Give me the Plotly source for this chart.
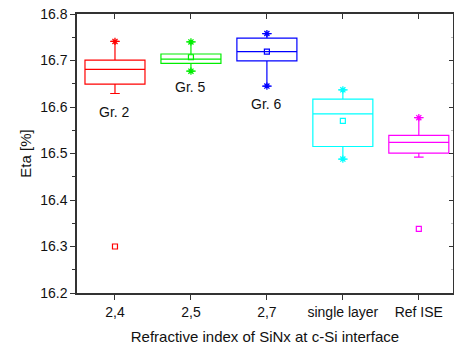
import plotly.graph_objects as go

categories = ["2,4", "2,5", "2,7", "single layer", "Ref ISE"]
colors = ["#ff0000", "#00ee00", "#0000ff", "#00ffff", "#ff00ff"]
q1 = [16.649, 16.694, 16.699, 16.515, 16.501]
median = [16.681, 16.703, 16.719, 16.585, 16.524]
q3 = [16.701, 16.714, 16.748, 16.617, 16.539]
lower = [16.629, 16.677, 16.645, 16.488, 16.492]
upper = [16.741, 16.740, 16.758, 16.637, 16.577]
star_max = [16.741, 16.740, 16.758, 16.637, 16.577]
star_min = [None, 16.677, 16.645, 16.488, None]
mean_pts = [16.300, 16.707, 16.719, 16.570, 16.338]
group_labels = ["Gr. 2", "Gr. 5", "Gr. 6"]
group_label_y = [16.589, 16.644, 16.606]

FONT = "Liberation Sans, Arial, sans-serif"

fig = go.Figure()
for i, c in enumerate(categories):
    fig.add_trace(go.Box(
        x=[c], q1=[q1[i]], median=[median[i]], q3=[q3[i]],
        lowerfence=[lower[i]], upperfence=[upper[i]],
        boxpoints=False, width=0.79, whiskerwidth=0.16,
        line=dict(color=colors[i], width=1.2),
        fillcolor="rgba(255,255,255,0)", showlegend=False,
    ))
    ys = [star_max[i]] + ([star_min[i]] if star_min[i] is not None else [])
    fig.add_trace(go.Scatter(
        x=[c] * len(ys), y=ys, mode="markers", showlegend=False,
        marker=dict(symbol="asterisk-open", size=6, color=colors[i],
                    line=dict(color=colors[i], width=1.3)),
    ))
    fig.add_trace(go.Scatter(
        x=[c], y=[mean_pts[i]], mode="markers", showlegend=False,
        marker=dict(symbol="square-open", size=5, color=colors[i],
                    line=dict(color=colors[i], width=1.2)),
    ))

# dummy trace for mirrored axes
fig.add_trace(go.Scatter(x=[categories[0]], y=[16.5], xaxis="x2", yaxis="y2",
                         mode="markers", marker=dict(opacity=0), showlegend=False,
                         hoverinfo="skip"))

for lab, cat, yy in zip(group_labels, categories, group_label_y):
    fig.add_annotation(x=cat, y=yy, text=lab, showarrow=False,
                       font=dict(family=FONT, size=14, color="#111"))

xr = [-0.5, 4.45]
yr = [16.2, 16.8]
axis_line = dict(showline=True, linecolor="#333", linewidth=1.5)

fig.update_layout(
    width=454, height=345,
    margin=dict(l=77, r=1, t=14, b=52),
    paper_bgcolor="white", plot_bgcolor="white",
    font=dict(family=FONT, color="#111"),
    xaxis=dict(type="category", categoryorder="array", categoryarray=categories,
               range=xr, ticks="outside", ticklen=5, tickwidth=1.2, tickcolor="#333",
               showgrid=False, zeroline=False,
               tickfont=dict(size=14, family=FONT, color="#111"),
               title=dict(text="Refractive index of SiNx at c-Si interface",
                          font=dict(size=15, family=FONT, color="#111"), standoff=13),
               **axis_line),
    xaxis2=dict(type="category", categoryorder="array", categoryarray=categories,
                range=xr, overlaying="x", side="top", anchor="y",
                ticks="inside", ticklen=5, tickwidth=1.2, tickcolor="#333",
                showticklabels=False, showgrid=False, zeroline=False, **axis_line),
    yaxis=dict(range=yr, dtick=0.1, tick0=16.2, ticks="outside", ticklen=5,
               tickwidth=1.2, tickcolor="#333", showgrid=False, zeroline=False,
               tickformat=".1f",
               minor=dict(dtick=0.05, ticks="outside", ticklen=3, tickcolor="#333"),
               tickfont=dict(size=14, family=FONT, color="#111"),
               title=dict(text="Eta [%]", font=dict(size=15, family=FONT, color="#111"),
                          standoff=5),
               **axis_line),
    yaxis2=dict(range=yr, dtick=0.1, tick0=16.2, overlaying="y", side="right",
                anchor="x", ticks="inside", ticklen=4, tickwidth=1.2, tickcolor="#333",
                minor=dict(dtick=0.05, ticks="inside", ticklen=2, tickcolor="#bbb"),
                showticklabels=False, showgrid=False, zeroline=False, **axis_line),
)

fig.write_html("out.html")
